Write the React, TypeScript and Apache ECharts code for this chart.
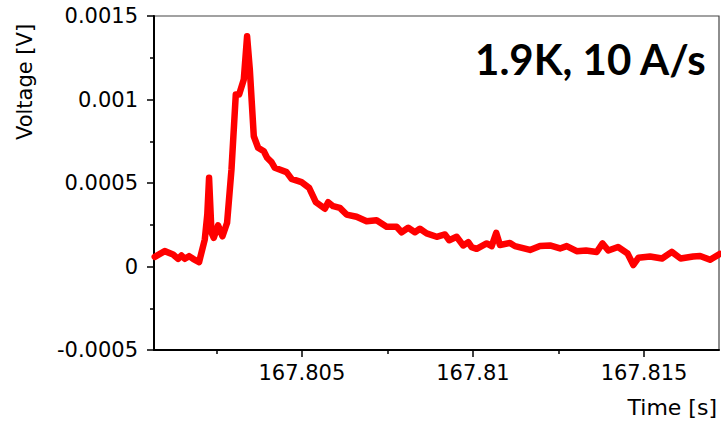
import React, { useEffect, useRef } from "react";
import * as echarts from "echarts";

const titleText = "1.9K, 10 A/s";
const xAxisName = "Time [s]";
const yAxisName = "Voltage [V]";

const xMin = 167.80068;
const xMax = 167.81719;
const xMajorTicks = [167.805, 167.81, 167.815];
const xMinorTicks = [167.8025, 167.8075, 167.8125];
const yMin = -0.0005;
const yMax = 0.0015;
const yInterval = 0.0005;

const timeValues = [
  167.800702, 167.800994, 167.801237, 167.801383, 167.801482, 167.801579, 167.801705,
  167.801822, 167.801997, 167.802164, 167.802237, 167.802289, 167.80236, 167.802427,
  167.802553, 167.802681, 167.802816, 167.802944, 167.80307, 167.803167, 167.803304,
  167.8034, 167.80348, 167.803596, 167.803722, 167.803889, 167.803985, 167.804114,
  167.804211, 167.804553, 167.804699, 167.804991, 167.805213, 167.805409, 167.805673,
  167.805769, 167.805915, 167.806111, 167.806307, 167.8066, 167.806892, 167.807184,
  167.807477, 167.807769, 167.807915, 167.808108, 167.808304, 167.80845, 167.808646,
  167.808939, 167.809181, 167.809307, 167.809523, 167.809716, 167.809863, 167.809962,
  167.810108, 167.810401, 167.810547, 167.810681, 167.81079, 167.811082, 167.811228,
  167.811667, 167.811959, 167.812251, 167.812544, 167.81274, 167.813032, 167.813304,
  167.813617, 167.813787, 167.813956, 167.81424, 167.814518, 167.814687, 167.814834,
  167.815176, 167.815526, 167.81581, 167.816068, 167.816433, 167.816638, 167.81693,
  167.817208,
];

const voltageValues = [
  5.8e-5, 9.2e-5, 7.2e-5, 4.6e-5, 6.6e-5, 4.6e-5, 6.2e-5,
  4.6e-5, 2.6e-5, 1.62e-4, 3.11e-4, 5.31e-4, 2.02e-4, 1.72e-4,
  2.46e-4, 1.81e-4, 2.62e-4, 5.81e-4, 1.03e-3, 1.03e-3, 1.12e-3,
  1.379e-3, 1.18e-3, 7.8e-4, 7.11e-4, 6.9e-4, 6.51e-4, 6.25e-4,
  5.91e-4, 5.65e-4, 5.25e-4, 5.05e-4, 4.71e-4, 3.85e-4, 3.46e-4,
  3.85e-4, 3.61e-4, 3.51e-4, 3.11e-4, 2.98e-4, 2.71e-4, 2.77e-4,
  2.38e-4, 2.38e-4, 2.05e-4, 2.32e-4, 2.05e-4, 2.26e-4, 1.98e-4,
  1.78e-4, 1.92e-4, 1.57e-4, 1.78e-4, 1.26e-4, 1.46e-4, 1.16e-4,
  1.06e-4, 1.38e-4, 1.22e-4, 2.01e-4, 1.29e-4, 1.41e-4, 1.22e-4,
  9.9e-5, 1.23e-4, 1.26e-4, 1.08e-4, 1.22e-4, 9.2e-5, 9.6e-5,
  8.7e-5, 1.38e-4, 9.6e-5, 1.17e-4, 7.8e-5, 9e-6, 5.2e-5,
  6.0e-5, 4.8e-5, 8.8e-5, 4.8e-5, 6.0e-5, 6.3e-5, 4.0e-5,
  7.5e-5,
];

const labelFont = "DejaVu Sans";

export default function App() {
  const ref = useRef<HTMLDivElement>(null);

  useEffect(() => {
    if (!ref.current) return;
    const chart = echarts.init(ref.current, undefined, { renderer: "svg" });
    const data = timeValues.map((t, i) => [t, voltageValues[i]]);
    chart.setOption({
      animation: false,
      backgroundColor: "#ffffff",
      grid: {
        left: 154,
        right: 2,
        top: 16,
        bottom: 71,
        show: true,
        borderColor: "#444444",
        borderWidth: 1.2,
        backgroundColor: "transparent",
        outerBoundsMode: "none",
      },
      xAxis: [
        {
          type: "value",
          min: xMin,
          max: xMax,
          position: "bottom",
          axisLine: { show: true, onZero: false, lineStyle: { color: "#000", width: 2 } },
          axisTick: {
            show: true,
            customValues: xMajorTicks,
            length: 7,
            lineStyle: { color: "#000", width: 1.5 },
          },
          axisLabel: {
            show: true,
            customValues: xMajorTicks,
            margin: 12,
            color: "#000",
            fontFamily: labelFont,
            fontSize: 21,
            formatter: (v: number) => String(parseFloat(v.toFixed(4))),
          },
          splitLine: { show: false },
        },
        {
          type: "value",
          min: xMin,
          max: xMax,
          position: "bottom",
          axisLine: { show: false, onZero: false },
          axisTick: {
            show: true,
            customValues: xMinorTicks,
            length: 4,
            lineStyle: { color: "#000", width: 1.5 },
          },
          axisLabel: { show: false },
          splitLine: { show: false },
        },
      ],
      yAxis: {
        type: "value",
        min: yMin,
        max: yMax,
        interval: yInterval,
        axisLine: { show: true, onZero: false, lineStyle: { color: "#000", width: 2 } },
        axisTick: { show: true, length: 7, lineStyle: { color: "#000", width: 1.5 } },
        minorTick: { show: true, splitNumber: 2, length: 4, lineStyle: { color: "#000", width: 1.5 } },
        axisLabel: {
          margin: 16,
          color: "#000",
          fontFamily: labelFont,
          fontSize: 21,
          formatter: (v: number) => String(parseFloat(v.toFixed(6))),
        },
        splitLine: { show: false },
      },
      series: [
        {
          type: "line",
          xAxisIndex: 0,
          data,
          showSymbol: false,
          symbol: "none",
          smooth: false,
          lineStyle: { color: "#ff0000", width: 6.5, join: "round", cap: "round" },
          z: 3,
        },
      ],
      graphic: [
        {
          type: "text",
          right: 14,
          top: 38,
          style: {
            text: titleText,
            fill: "#000",
            font: "bold 42px Lato",
          },
          z: 10,
        },
        {
          type: "text",
          x: 717,
          y: 407,
          style: {
            text: xAxisName,
            fill: "#000",
            fontFamily: labelFont,
            fontSize: 22,
            textAlign: "right",
            textVerticalAlign: "middle",
          },
        },
        {
          type: "text",
          x: 25,
          y: 82,
          rotation: Math.PI / 2,
          style: {
            text: yAxisName,
            fill: "#000",
            fontFamily: labelFont,
            fontSize: 21,
            textAlign: "center",
            textVerticalAlign: "middle",
          },
        },
      ],
    });
    return () => chart.dispose();
  }, []);

  return (
    <div
      ref={ref}
      style={{ position: "absolute", left: 0, top: 0, width: 721, height: 421 }}
    />
  );
}
